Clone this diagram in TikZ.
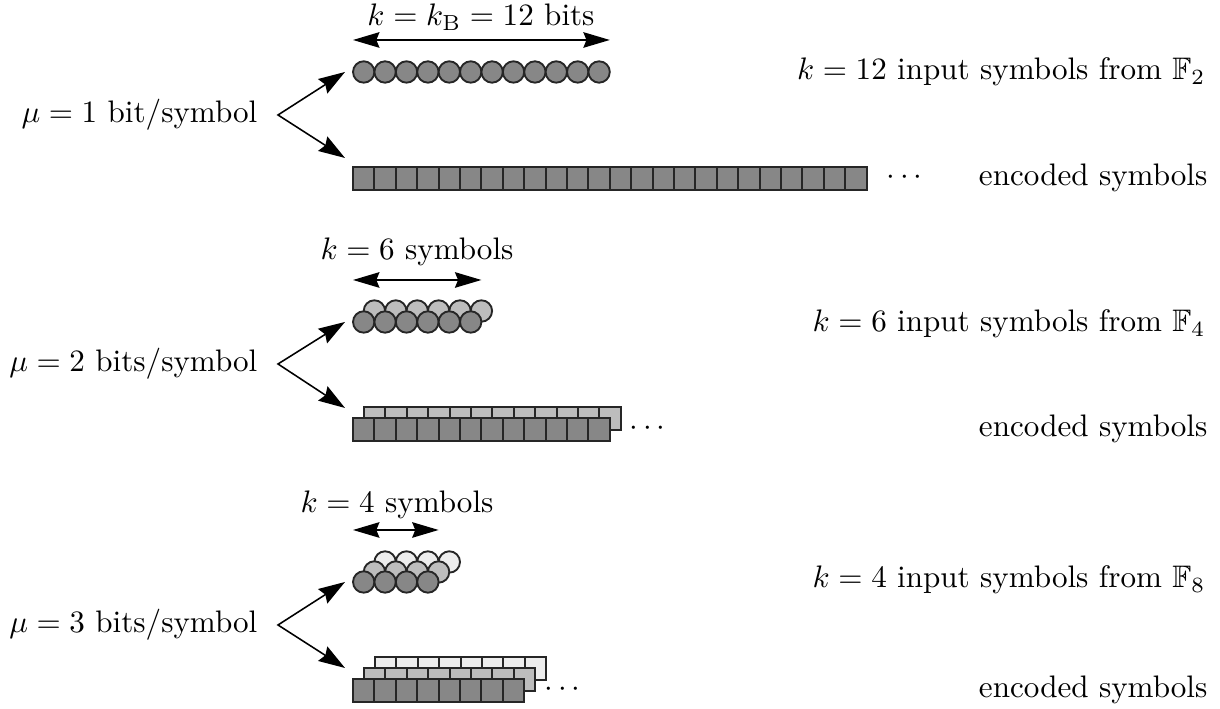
\documentclass[tikz,border=0pt]{standalone}
\usepackage{amsmath,amssymb}
\usetikzlibrary{arrows.meta,positioning,calc}

\begin{document}
\begin{tikzpicture}[
    x=0.3215pt, y=0.3215pt,
    txt/.style={inner sep=0pt},
    bit/.style={draw=black!85,line width=0.6pt},
    cell/.style={draw=black!85,line width=0.6pt},
    dark/.style={fill=black!47},
    mid/.style={fill=black!26},
    pale/.style={fill=black!7},
    fork/.style={line width=0.5pt,{Stealth[length=8.5pt,width=5.5pt,inset=1pt]}-{Stealth[length=8.5pt,width=5.5pt,inset=1pt]}},
    span/.style={line width=0.5pt,{Stealth[length=8.5pt,width=5pt,inset=1pt]}-{Stealth[length=8.5pt,width=5pt,inset=1pt]}}
]
    \useasboundingbox (0,0) rectangle (1220,709);

    % mu = 1: binary symbols
    \node[txt,anchor=east] (mu1) at (258,594) {$\mu = 1$ bit/symbol};
    \coordinate (v1) at ($(mu1.east)+(20,0)$);
    \coordinate (t1) at (345,637);
    \coordinate (b1) at (345,551);
    \draw[fork] (t1) -- (v1) -- (b1);

    \coordinate (wl1) at (353,669);
    \coordinate (wr1) at (609.8,669);
    \draw[span] (wl1) -- (wr1);
    \node[txt] (w1) at (481,692) {$k = k_{\mathrm{B}} = 12$ bits};

    \foreach \i in {0,...,11}
        \draw[bit,dark] ({363.7+21.4*\i},637) circle (10.7);
    \foreach \i in {0,...,23}
        \draw[cell,dark] ({353+21.4*\i},519) rectangle ++(21.4,23);
    \node (dots1) at (907,531) {$\cdots$};

    \node[txt,anchor=east] (in1) at (1206,637) {$k = 12$ input symbols from $\mathbb{F}_2$};
    \node[txt,anchor=east] (enc1) at (1208,531) {encoded symbols};

    % mu = 2: symbols over F4
    \node[txt,anchor=east] (mu2) at (258,345) {$\mu = 2$ bits/symbol};
    \coordinate (v2) at ($(mu2.east)+(20,0)$);
    \coordinate (t2) at (345,387);
    \coordinate (b2) at (345,301);
    \draw[fork] (t2) -- (v2) -- (b2);

    \coordinate (wl2) at (353,429);
    \coordinate (wr2) at (481.4,429);
    \draw[span] (wl2) -- (wr2);
    \node[txt] (w2) at (417,457) {$k = 6$ symbols};

    \foreach \i in {0,...,5}
        \draw[bit,mid] ({374.4+21.4*\i},398) circle (10.7);
    \foreach \i in {0,...,5}
        \draw[bit,dark] ({363.7+21.4*\i},387) circle (10.7);
    \foreach \i in {0,...,11}
        \draw[cell,mid] ({364+21.4*\i},279) rectangle ++(21.4,23);
    \foreach \i in {0,...,11}
        \draw[cell,dark] ({353+21.4*\i},268) rectangle ++(21.4,23);
    \node (dots2) at (650,280) {$\cdots$};

    \node[txt,anchor=east] (in2) at (1206,385) {$k = 6$ input symbols from $\mathbb{F}_4$};
    \node[txt,anchor=east] (enc2) at (1208,280) {encoded symbols};

    % mu = 3: symbols over F8
    \node[txt,anchor=east] (mu3) at (258,84) {$\mu = 3$ bits/symbol};
    \coordinate (v3) at ($(mu3.east)+(20,0)$);
    \coordinate (t3) at (345,127);
    \coordinate (b3) at (345,41);
    \draw[fork] (t3) -- (v3) -- (b3);

    \coordinate (wl3) at (353,179);
    \coordinate (wr3) at (438.6,179);
    \draw[span] (wl3) -- (wr3);
    \node[txt] (w3) at (397,204) {$k = 4$ symbols};

    \foreach \i in {0,...,3}
        \draw[bit,pale] ({385.1+21.4*\i},147) circle (10.7);
    \foreach \i in {0,...,3}
        \draw[bit,mid] ({374.4+21.4*\i},137) circle (10.7);
    \foreach \i in {0,...,3}
        \draw[bit,dark] ({363.7+21.4*\i},127) circle (10.7);
    \foreach \i in {0,...,7}
        \draw[cell,pale] ({375+21.4*\i},29) rectangle ++(21.4,23);
    \foreach \i in {0,...,7}
        \draw[cell,mid] ({364+21.4*\i},18) rectangle ++(21.4,23);
    \foreach \i in {0,...,7}
        \draw[cell,dark] ({353+21.4*\i},7) rectangle ++(21.4,23);
    \node (dots3) at (565,19) {$\cdots$};

    \node[txt,anchor=east] (in3) at (1206,129) {$k = 4$ input symbols from $\mathbb{F}_8$};
    \node[txt,anchor=east] (enc3) at (1208,19) {encoded symbols};
\end{tikzpicture}
\end{document}
